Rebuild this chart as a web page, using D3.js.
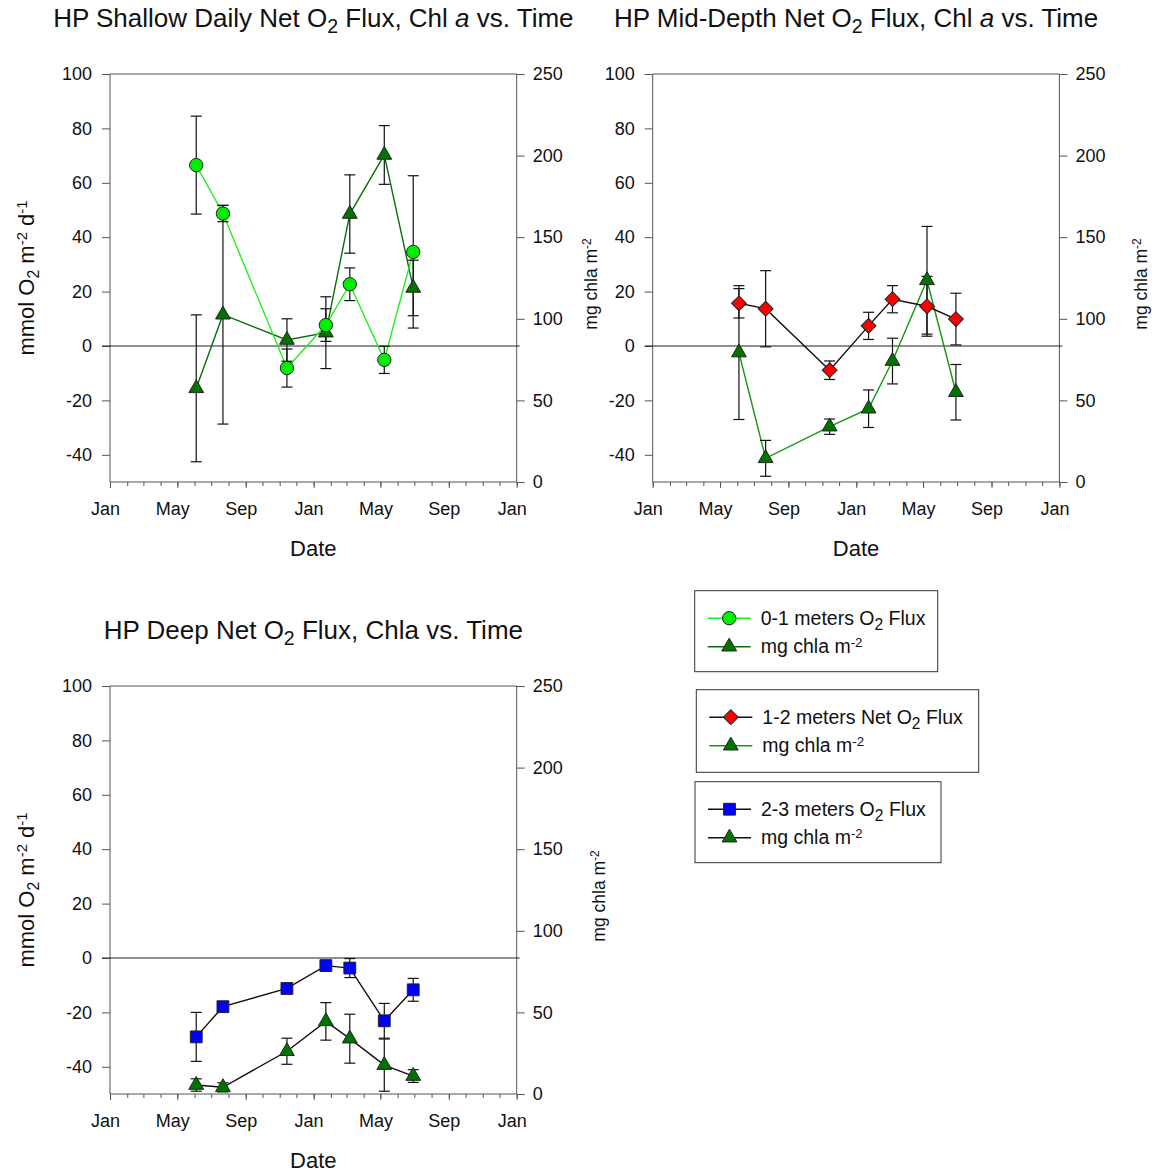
<!DOCTYPE html>
<html lang="en">
<head>
<meta charset="UTF-8">
<title>HP Net O2 Flux, Chl a vs. Time</title>
<script src="https://d3js.org/d3.v7.min.js"></script>
<style>
    body { margin: 0; background: #fff; }
    svg { font-family: Arial, "Liberation Sans", sans-serif; }
</style>
</head>
<body>
<svg id="chart" width="1158" height="1174"></svg>
<script>
// sampling dates (same for all three depths)
var sampleDates = ["2008-06-04", "2008-07-22", "2008-11-14", "2009-01-23", "2009-03-07", "2009-05-08", "2009-06-29"];

// 0-1 m
var shallowFlux    = [66.5, 48.7, -8.1, 7.7, 22.7, -5.1, 34.6];
var shallowFluxErr = [18, 3, 7, 6, 6, 5, 28];
var shallowChla    = [57.4, 102.5, 87, 91.5, 164.2, 200.4, 118.9];
var shallowChlaErr = [45, 67, 13, 22, 24, 18, 17];

// 1-2 m
var midFlux    = [15.7, 13.7, -8.9, 7.4, 17.2, 14.6, 9.9];
var midFluxErr = [5.4, 14, 3.4, 5, 5, 11, 9.5];
var midChla    = [79.3, 14.5, 33.9, 44.9, 74.1, 123.6, 55];
var midChlaErr = [41, 11, 4.7, 11.5, 14, 33, 17];

// 2-3 m
var deepFlux    = [-29, -17.9, -11.2, -2.8, -3.7, -23.1, -11.7];
var deepFluxErr = [9, 1, 1, 1, 3.5, 6.4, 4.2];
var deepChla    = [5.5, 4.1, 26.2, 44.5, 33.9, 17.7, 11];
var deepChlaErr = [3.8, 2.8, 8, 11.5, 15, 16, 3.9];

var fluxTicks = [-40, -20, 0, 20, 40, 60, 80, 100];
var chlaTicks = [0, 50, 100, 150, 200, 250];

var svg = d3.select("#chart");
var parse = d3.timeParse("%Y-%m-%d");
var dates = sampleDates.map(parse);

var W = 406.7, H = 408;

var x = d3.scaleTime()
    .domain([new Date(2008, 0, 1), new Date(2010, 0, 1)])
    .range([0, W]);
var yL = d3.scaleLinear().domain([-50, 100]).range([H, 0]);
var yR = d3.scaleLinear().domain([0, 250]).range([H, 0]);

var axisColor = "#555";
var plain = function (d) { return String(d); };

// text with sub/superscripts: parts = [[text, style]] style: "", "sub", "sup", "it"
function richText(sel, parts, size, subScale) {
    var k = subScale || 0.72;
    parts.forEach(function (p) {
        var t = sel.append("tspan").text(p[0]);
        if (p[1] === "sub") t.attr("font-size", size * k).attr("baseline-shift", "-30%");
        if (p[1] === "sup") t.attr("font-size", size * 0.68).attr("baseline-shift", "48%");
        if (p[1] === "it") t.attr("font-style", "italic");
    });
}

function drawPanel(cfg) {
    var g = svg.append("g").attr("transform", "translate(" + cfg.left + "," + cfg.top + ")");

    // title
    var title = g.append("text")
        .attr("x", W / 2)
        .attr("y", -47)
        .attr("text-anchor", "middle")
        .attr("font-size", 26)
        .attr("fill", "#111");
    richText(title, cfg.title, 26, 0.75);

    // top frame
    g.append("line").attr("x1", 0).attr("x2", W).attr("y1", 0).attr("y2", 0).attr("stroke", axisColor);

    var axL = g.append("g").call(d3.axisLeft(yL).tickValues(fluxTicks).tickFormat(plain).tickSize(8).tickPadding(10));
    var axR = g.append("g").attr("transform", "translate(" + W + ",0)")
        .call(d3.axisRight(yR).tickValues(chlaTicks).tickFormat(plain).tickSize(8).tickPadding(8));
    var axB = g.append("g").attr("transform", "translate(0," + H + ")")
        .call(d3.axisBottom(x).ticks(d3.timeMonth.every(4)).tickFormat(d3.timeFormat("%b")).tickSize(6).tickPadding(14));
    g.append("g").attr("transform", "translate(0," + H + ")")
        .call(d3.axisBottom(x).ticks(d3.timeMonth.every(1)).tickFormat("").tickSize(4))
        .call(function (a) { a.select(".domain").remove(); a.selectAll("line").attr("stroke", axisColor); });

    axL.select(".domain").attr("d", "M0,0V" + H);
    axR.select(".domain").attr("d", "M0,0V" + H);
    axB.select(".domain").attr("d", "M0,0H" + W);
    axB.selectAll("text").attr("dx", -5);
    [axL, axR, axB].forEach(function (a) {
        a.attr("font-family", null).attr("font-size", null);
        a.select(".domain").attr("stroke", axisColor);
        a.selectAll("line").attr("stroke", axisColor);
        a.selectAll("text").attr("font-size", 18).attr("fill", "#111");
    });

    // zero line
    g.append("line").attr("x1", -8).attr("x2", W + 3)
        .attr("y1", yL(0)).attr("y2", yL(0))
        .attr("stroke", "#222").attr("stroke-width", 1);

    // axis titles
    g.append("text").attr("x", W / 2).attr("y", H + 74)
        .attr("text-anchor", "middle").attr("font-size", 22).attr("fill", "#111").text("Date");
    if (cfg.leftLabel) {
        var ll = g.append("text")
            .attr("transform", "translate(-76," + (H / 2) + ") rotate(-90)")
            .attr("text-anchor", "middle").attr("font-size", 22).attr("fill", "#111");
        richText(ll, [["mmol O", ""], ["2", "sub"], [" m", ""], ["-2", "sup"], [" d", ""], ["-1", "sup"]], 22);
    }
    var rl = g.append("text")
        .attr("transform", "translate(" + (W + cfg.rightLabelDx) + "," + (H / 2 + 6) + ") rotate(-90)")
        .attr("text-anchor", "middle").attr("font-size", 17.5).attr("fill", "#111");
    richText(rl, [["mg chla m", ""], ["-2", "sup"]], 17.5);

    // series
    var series = [
        { vals: cfg.chla, errs: cfg.chlaErr, y: yR, line: cfg.chlaLine, fill: "#007400", sym: d3.symbolTriangle, size: 95, rot: 0 },
        { vals: cfg.flux, errs: cfg.fluxErr, y: yL, line: cfg.fluxLine, fill: cfg.fluxFill, sym: cfg.sym, size: cfg.symSize, rot: cfg.rot }
    ];

    series.forEach(function (s) {
        var pts = dates.map(function (d, i) { return { d: d, v: s.vals[i], e: s.errs[i] }; });
        g.append("path").datum(pts)
            .attr("fill", "none").attr("stroke", s.line).attr("stroke-width", 1.4)
            .attr("d", d3.line().x(function (p) { return x(p.d); }).y(function (p) { return s.y(p.v); }));
        s.pts = pts;
    });

    series.forEach(function (s) {
        var eb = g.append("g").attr("stroke", "#111").attr("stroke-width", 1.2);
        s.pts.forEach(function (p) {
            var cx = x(p.d), y1 = s.y(p.v + p.e), y2 = s.y(p.v - p.e);
            eb.append("line").attr("x1", cx).attr("x2", cx).attr("y1", y1).attr("y2", y2);
            eb.append("line").attr("x1", cx - 5.5).attr("x2", cx + 5.5).attr("y1", y1).attr("y2", y1);
            eb.append("line").attr("x1", cx - 5.5).attr("x2", cx + 5.5).attr("y1", y2).attr("y2", y2);
        });
    });

    series.forEach(function (s) {
        g.append("g").selectAll("path").data(s.pts).join("path")
            .attr("d", d3.symbol().type(s.sym).size(s.size))
            .attr("transform", function (p) {
                return "translate(" + x(p.d) + "," + s.y(p.v) + ") rotate(" + s.rot + ")";
            })
            .attr("fill", s.fill).attr("stroke", "#222").attr("stroke-width", 1);
    });
}

drawPanel({
    left: 110, top: 74, leftLabel: true, rightLabelDx: 80,
    title: [["HP Shallow Daily Net O", ""], ["2", "sub"], [" Flux, Chl ", ""], ["a", "it"], [" vs. Time", ""]],
    flux: shallowFlux, fluxErr: shallowFluxErr, chla: shallowChla, chlaErr: shallowChlaErr,
    fluxLine: "#22ee22", chlaLine: "#0a6e0a", fluxFill: "#00ee00", sym: d3.symbolCircle, symSize: 140, rot: 0
});

drawPanel({
    left: 652.7, top: 74, leftLabel: false, rightLabelDx: 88,
    title: [["HP Mid-Depth Net O", ""], ["2", "sub"], [" Flux, Chl ", ""], ["a", "it"], [" vs. Time", ""]],
    flux: midFlux, fluxErr: midFluxErr, chla: midChla, chlaErr: midChlaErr,
    fluxLine: "#111", chlaLine: "#119911", fluxFill: "#ff0000", sym: d3.symbolSquare, symSize: 110, rot: 45
});

drawPanel({
    left: 110, top: 686, leftLabel: true, rightLabelDx: 88,
    title: [["HP Deep Net O", ""], ["2", "sub"], [" Flux, Chla vs. Time", ""]],
    flux: deepFlux, fluxErr: deepFluxErr, chla: deepChla, chlaErr: deepChlaErr,
    fluxLine: "#111", chlaLine: "#111", fluxFill: "#0000ff", sym: d3.symbolSquare, symSize: 140, rot: 0
});

// legends
var legends = [
    { x: 694.7, y: 590.7, w: 243, h: 81, rows: [
        { text: [[" 0-1 meters O", ""], ["2", "sub"], [" Flux", ""]], line: "#22ee22", fill: "#00ee00", sym: d3.symbolCircle, size: 140, rot: 0 },
        { text: [["mg chla m", ""], ["-2", "sup"]], line: "#0a6e0a", fill: "#007400", sym: d3.symbolTriangle, size: 95, rot: 0 }
    ] },
    { x: 696.3, y: 689.7, w: 282.4, h: 82.6, rows: [
        { text: [["1-2 meters Net O", ""], ["2", "sub"], [" Flux", ""]], line: "#111", fill: "#ff0000", sym: d3.symbolSquare, size: 110, rot: 45 },
        { text: [["mg chla m", ""], ["-2", "sup"]], line: "#119911", fill: "#007400", sym: d3.symbolTriangle, size: 95, rot: 0 }
    ] },
    { x: 695, y: 781.7, w: 246, h: 81, rows: [
        { text: [["2-3 meters O", ""], ["2", "sub"], [" Flux", ""]], line: "#111", fill: "#0000ff", sym: d3.symbolSquare, size: 140, rot: 0 },
        { text: [["mg chla m", ""], ["-2", "sup"]], line: "#111", fill: "#007400", sym: d3.symbolTriangle, size: 95, rot: 0 }
    ] }
];

legends.forEach(function (L) {
    var g = svg.append("g").attr("transform", "translate(" + L.x + "," + L.y + ")");
    g.append("rect").attr("width", L.w).attr("height", L.h)
        .attr("fill", "#fff").attr("stroke", "#333").attr("stroke-width", 1);
    L.rows.forEach(function (r, i) {
        var ry = 27.5 + i * 28.5;
        g.append("line").attr("x1", 13).attr("x2", 56).attr("y1", ry).attr("y2", ry)
            .attr("stroke", r.line).attr("stroke-width", 1.4);
        g.append("path").attr("d", d3.symbol().type(r.sym).size(r.size))
            .attr("transform", "translate(34.5," + ry + ") rotate(" + r.rot + ")")
            .attr("fill", r.fill).attr("stroke", "#222");
        var t = g.append("text").attr("x", 66).attr("y", ry + 6.5)
            .attr("font-size", 19.5).attr("fill", "#111");
        richText(t, r.text, 19.5, 0.8);
    });
});
</script>
</body>
</html>
